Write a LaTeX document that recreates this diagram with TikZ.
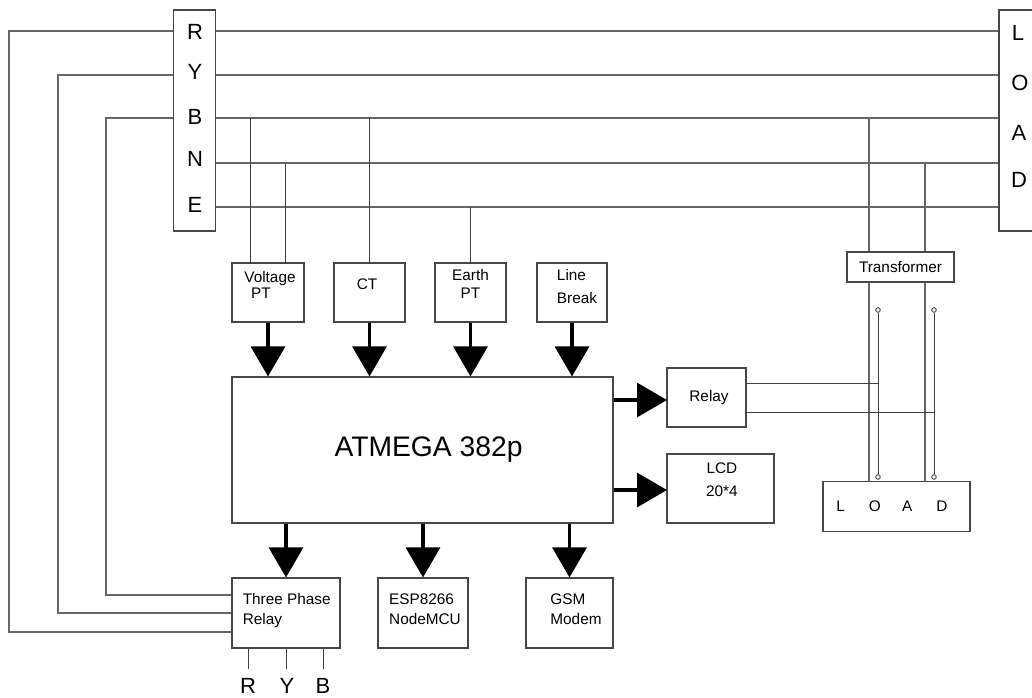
\documentclass[tikz,border=0pt]{standalone}
\usepackage{fontspec}
\setmainfont{Liberation Sans}
\usetikzlibrary{arrows.meta}
\begin{document}
\begin{tikzpicture}[
    x=0.75pt, y=-0.75pt,
    box/.style={rectangle, draw=black!72, line width=0.85pt, inner sep=0pt, font=\fontsize{11.5}{15}\selectfont, align=left},
    phase/.style={inner sep=0pt, font=\fontsize{16.5}{18}\selectfont},
    wire/.style={line width=0.85pt, draw=black!60},
    thinwire/.style={line width=0.75pt, draw=black!75},
    sig/.style={line width=2.5pt, draw=black, -{Triangle[length=22.5pt, width=25.5pt]}},
    term/.style={circle, draw=black!70, line width=0.7pt, fill=white, minimum size=3.4pt, inner sep=0pt},
]
\useasboundingbox (0,0) rectangle (1032,697);
% supply and load columns
\node[box, minimum width=31pt, minimum height=165.75pt] (supply) at (194.5,120.5) {};
\node[box, minimum width=36pt, minimum height=165.75pt] (loadtop) at (1023,120.5) {};
\node[phase] (r) at (195,32) {R};
\node[phase] (y) at (195,72) {Y};
\node[phase] (b) at (195,117) {B};
\node[phase] (n) at (195,159) {N};
\node[phase] (e) at (195,205) {E};
\node[phase] (l1) at (1018,33) {L};
\node[phase] (l2) at (1020,83) {O};
\node[phase] (l3) at (1019,133) {A};
\node[phase] (l4) at (1019,180) {D};
\coordinate (rowr) at (0,31);
\coordinate (rowy) at (0,75);
\coordinate (rowb) at (0,118);
\coordinate (rown) at (0,163);
\coordinate (rowe) at (0,207);
% blocks
\node[box, minimum width=54pt, minimum height=44.25pt, text depth=11pt, align=center] (vpt) at (268,292.5) {\hspace*{3pt}Voltage\\[-3pt]PT\hspace*{10.5pt}};
\node[box, minimum width=53.25pt, minimum height=44.25pt, text depth=13pt] (ct) at (369.5,292.5) {CT\hspace*{3.75pt}};
\node[box, minimum width=53.25pt, minimum height=44.25pt, text depth=13pt, align=center] (ept) at (470.5,292.5) {Earth\\[-1pt]PT};
\node[box, minimum width=52.5pt, minimum height=44.25pt, text depth=9pt] (brk) at (572,292.5) {\hspace*{7.5pt}Line\\[2pt]\hspace*{7.5pt}Break};
\node[box, minimum width=285.75pt, minimum height=109.5pt, font=\fontsize{21.2}{25}\selectfont] (mcu) at (422.5,450) {\hspace*{9pt}ATMEGA 382p};
\node[box, minimum width=59.25pt, minimum height=44.25pt] (relay) at (706.5,397.5) {\hspace*{3.75pt}Relay};
\node[box, minimum width=80.25pt, minimum height=51.75pt, align=center, text depth=13pt] (lcd) at (720.5,488.5) {\hspace*{2pt}LCD\\[2pt]\hspace*{2pt}20*4};
\node[box, minimum width=81pt, minimum height=52.5pt, text depth=6pt] (tpr) at (286,613) {\hspace*{1pt}Three Phase\\\hspace*{1pt}Relay};
\node[box, minimum width=67.5pt, minimum height=52.5pt, text depth=6pt] (esp) at (423,613) {\hspace*{3pt}ESP8266\\\hspace*{3pt}NodeMCU};
\node[box, minimum width=65.25pt, minimum height=52.5pt, text depth=6pt] (gsm) at (569.5,613) {\hspace*{9.75pt}GSM\\\hspace*{9.75pt}Modem};
\node[box, minimum width=80.25pt, minimum height=22.5pt] (trf) at (900.5,267) {Transformer};
\node[box, minimum width=110.25pt, minimum height=37pt] (load) at (896.5,506.5) {L\hspace{18pt}O\hspace{16pt}A\hspace{18pt}D\hspace*{6.75pt}};
\node[term] (t1) at (878,310) {};
\node[term] (t2) at (934,310) {};
\node[term] (t3) at (878,477) {};
\node[term] (t4) at (934,477) {};
\node[phase] (rout) at (248,686) {R};
\node[phase] (yout) at (287,686) {Y};
\node[phase] (bout) at (323,686) {B};
\coordinate (vtap) at (250,0);
\coordinate (ntap) at (285,0);
\coordinate (ctap) at (369,0);
\coordinate (etap) at (470,0);
\coordinate (tra) at (869,0);
\coordinate (trb) at (925,0);
\coordinate (rela) at (0,383);
\coordinate (relb) at (0,412);
\coordinate (relayin) at (667,400);
\coordinate (lcdin) at (667,490);
\coordinate (outr) at (248,669);
\coordinate (outy) at (286,669);
\coordinate (outb) at (323,669);
% bus lines
\draw[wire] (supply.east |- rowr) -- (loadtop.west |- rowr);
\draw[wire] (supply.east |- rowy) -- (loadtop.west |- rowy);
\draw[wire] (supply.east |- rowb) -- (loadtop.west |- rowb);
\draw[wire] (supply.east |- rown) -- (loadtop.west |- rown);
\draw[wire] (supply.east |- rowe) -- (loadtop.west |- rowe);
\draw[wire] (supply.west |- rowr) -- (9,31) -- (9,632) -- (tpr.west |- 0,632);
\draw[wire] (supply.west |- rowy) -- (58,75) -- (58,613) -- (tpr.west |- 0,613);
\draw[wire] (supply.west |- rowb) -- (106,118) -- (106,595) -- (tpr.west |- 0,595);
% taps
\draw[thinwire] (vtap |- rowb) -- (vtap |- vpt.north);
\draw[thinwire] (ntap |- rown) -- (ntap |- vpt.north);
\draw[thinwire] (ctap |- rowb) -- (ctap |- ct.north);
\draw[thinwire] (etap |- rowe) -- (etap |- ept.north);
\draw[wire] (tra |- rowb) -- (tra |- trf.north);
\draw[wire] (trb |- rown) -- (trb |- trf.north);
\draw[wire] (tra |- trf.south) -- (tra |- load.north);
\draw[wire] (trb |- trf.south) -- (trb |- load.north);
\draw[thinwire] (t1) -- (t3);
\draw[thinwire] (t2) -- (t4);
\draw[thinwire] (relay.east |- rela) -- (t1 |- rela);
\draw[thinwire] (relay.east |- relb) -- (t2 |- relb);
\draw[thinwire] (outr |- tpr.south) -- (outr);
\draw[thinwire] (outy |- tpr.south) -- (outy);
\draw[thinwire] (outb |- tpr.south) -- (outb);
% signal arrows
\draw[sig] (vpt.south) -- (vpt.south |- mcu.north);
\draw[sig] (ct.south) -- (ct.south |- mcu.north);
\draw[sig] (ept.south) -- (ept.south |- mcu.north);
\draw[sig] (brk.south) -- (brk.south |- mcu.north);
\draw[sig] (mcu.east |- relayin) -- (relayin);
\draw[sig] (mcu.east |- lcdin) -- (lcdin);
\draw[sig] (tpr.north |- mcu.south) -- (tpr.north);
\draw[sig] (esp.north |- mcu.south) -- (esp.north);
\draw[sig] (gsm.north |- mcu.south) -- (gsm.north);
\end{tikzpicture}
\end{document}
